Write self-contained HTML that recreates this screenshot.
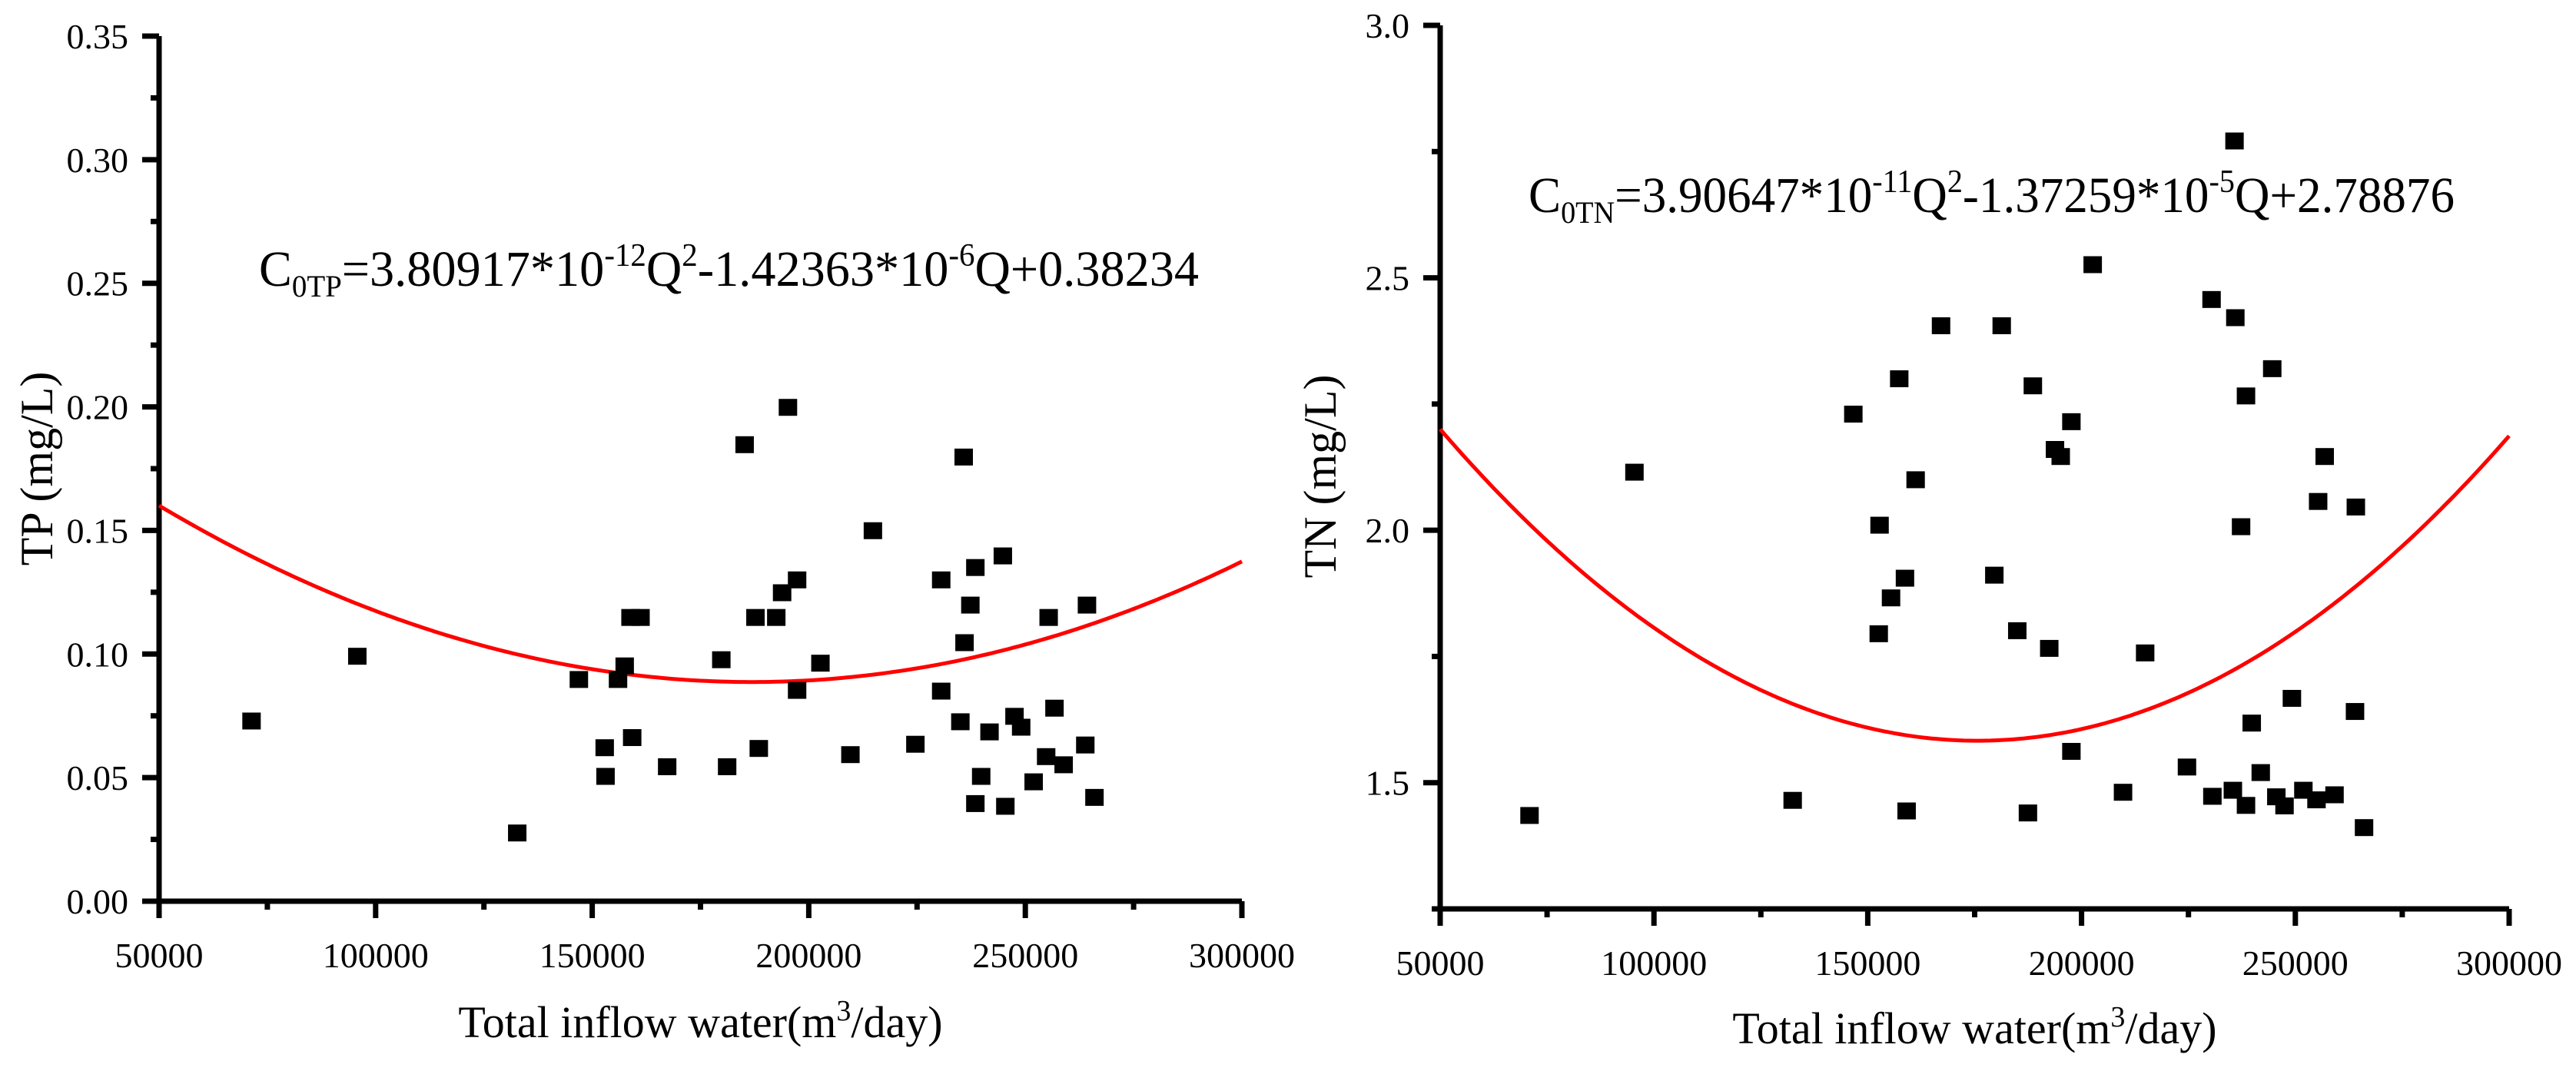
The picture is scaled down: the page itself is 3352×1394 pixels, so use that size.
<!DOCTYPE html>
<html><head><meta charset="utf-8">
<style>
html,body{margin:0;padding:0;background:#fff;}
svg{display:block;font-family:"Liberation Serif",serif;}
svg text{font-family:"Liberation Serif",serif;}
</style></head>
<body>
<svg id="fig" width="3352" height="1394" viewBox="0 0 3352 1394" xmlns="http://www.w3.org/2000/svg" font-family="Liberation Serif, serif">
<rect width="3352" height="1394" fill="#fff"/>
</svg>
<script>
// ---- data: TP chart ----
const tpFlow = [71346,95769,132692,146923,152885,153077,155962,157500,158846,159231,161154,167308,179808,181154,185192,187692,188462,192500,193846,195192,197308,197308,202692,209615,214808,224615,230577,230577,235000,235769,235962,237308,238462,238462,239808,241731,244808,245385,247500,249038,251923,254808,255385,256731,258846,263846,264231,265962];
const tpValue = [0.0729,0.0991,0.0276,0.0897,0.0621,0.0505,0.0897,0.0952,0.1148,0.0662,0.1148,0.0544,0.0977,0.0544,0.1847,0.1148,0.0618,0.1148,0.1248,0.1998,0.1300,0.0853,0.0963,0.0593,0.1499,0.0635,0.1300,0.0850,0.0726,0.1797,0.1046,0.1198,0.1350,0.0395,0.0505,0.0685,0.1397,0.0384,0.0748,0.0704,0.0483,0.0585,0.1148,0.0781,0.0552,0.0632,0.1198,0.0420];
// curve as drawn in the figure (estimated from the plotted line)
const tpFitCoef = [3.80917e-12, -1.42363e-6, 0.2217];
const tpYTicks = [0,0.05,0.10,0.15,0.20,0.25,0.30,0.35];
const tpYLabels = ["0.00","0.05","0.10","0.15","0.20","0.25","0.30","0.35"];
// ---- data: TN chart ----
const tnFlow = [70897,95437,132439,146626,152569,152761,155445,157362,158704,159088,161196,167139,179601,181327,184969,187462,188612,192446,193788,195130,197623,197623,202607,209701,214877,224655,230406,230598,235390,235774,235966,237308,238458,238458,239801,241909,244594,245552,247469,249195,251879,254946,255330,256863,259164,263957,264149,266066];
const tnValue = [1.435,2.115,1.465,2.230,1.795,2.010,1.866,2.300,1.905,1.444,2.100,2.405,1.911,2.405,1.801,1.440,2.286,1.766,2.160,2.146,2.215,1.562,2.526,1.481,1.757,1.531,2.457,1.473,1.485,2.771,2.421,2.007,2.266,1.455,1.618,1.520,2.320,1.472,1.454,1.667,1.485,1.466,2.057,2.146,1.476,1.641,2.046,1.411];
const tnFitCoef = [3.90647e-11, -1.37259e-5, 2.78876];
const tnYTicks = [1.5,2.0,2.5,3.0];
const tnYLabels = ["1.5","2.0","2.5","3.0"];
const xTicks = [50000,100000,150000,200000,250000,300000];
const xLabels = ["50000","100000","150000","200000","250000","300000"];

const NS="http://www.w3.org/2000/svg";
const svg=document.getElementById('fig');
function mk(tag,attrs,parent){const e=document.createElementNS(NS,tag);for(const k in attrs)e.setAttribute(k,attrs[k]);(parent||svg).appendChild(e);return e;}
const FF='Liberation Serif, serif';

function drawChart(o){
  const g=mk('g',{});
  
  
  const sx=v=>o.x0+(v-o.xmin)/(o.xmax-o.xmin)*(o.x1-o.x0);
  const sy=v=>o.y0-(v-o.ymin)/(o.ymax-o.ymin)*(o.y0-o.y1);
  const ax=mk('path',{d:`M${o.x0},${o.y1} V${o.y0} H${o.x1}`,fill:'none',stroke:'#000','stroke-width':7},g);
  
  
  for(let v=o.xmin; v<=o.xmax; v+=25000){
    const major=(v%50000===0);
    const t=mk('line',{x1:sx(v),x2:sx(v),y1:o.y0,y2:o.y0+(major?22:11),stroke:'#000','stroke-width':7},g);
    
    
  }
  xTicks.forEach((v,i)=>{
    const t=mk('text',{x:sx(v),y:o.y0+86,'font-size':46,'text-anchor':'middle','font-family':FF},g);
    t.textContent=xLabels[i];
    
    
  });
  const step=o.yTicks[1]-o.yTicks[0];
  for(let v=o.ymin; v<=o.ymax+1e-9; v+=step/2){
    const major=o.yTicks.some(t=>Math.abs(t-v)<1e-9);
    const t=mk('line',{x1:o.x0-(major?22:11),x2:o.x0,y1:sy(v),y2:sy(v),stroke:'#000','stroke-width':7},g);
    
    
  }
  o.yTicks.forEach((v,i)=>{
    const t=mk('text',{x:o.x0-40,y:sy(v)+16,'font-size':46,'text-anchor':'end','font-family':FF},g);
    t.textContent=o.yLabels[i];
    
    
  });
  let d='';
  for(let i=0;i<=200;i++){
    const q=o.xmin+(o.xmax-o.xmin)*i/200;
    const c=o.coef[0]*q*q+o.coef[1]*q+o.coef[2];
    d+=(i?'L':'M')+sx(q).toFixed(1)+','+sy(c).toFixed(1);
  }
  const cv=mk('path',{d:d,fill:'none',stroke:'#ff0000','stroke-width':5},g);
  
  
  o.xs.forEach((q,i)=>{
    const r=mk('rect',{x:sx(q)-12,y:sy(o.ys[i])-11,width:24,height:22,fill:'#000'},g);
    
    
  });
  const yt=mk('text',{x:0,y:0,'font-size':60,'text-anchor':'middle','font-family':FF,transform:`translate(${o.ytx},${o.yty}) rotate(-90)`},g);
  yt.textContent=o.ytitle;
  
  
  const xt=mk('text',{x:(o.x0+o.x1)/2,y:o.xty,'font-size':58,'text-anchor':'middle','font-family':FF},g);
  xt.innerHTML='Total inflow water(m<tspan dy="-22" font-size="38">3</tspan><tspan dy="22">/day)</tspan>';
  
  
  const eq=mk('text',{x:o.eqx,y:o.eqy,'font-size':66,'font-family':FF,textLength:o.eqw,lengthAdjust:'spacingAndGlyphs'},g);
  eq.innerHTML=o.eq;
  
  
}

drawChart({name:'tp-chart',x0:207,x1:1616,y0:1173,y1:47,xmin:50000,xmax:300000,ymin:0,ymax:0.35,
  yTicks:tpYTicks,yLabels:tpYLabels,xs:tpFlow,ys:tpValue,coef:tpFitCoef,
  ytitle:'TP (mg/L)',ytx:68,yty:610,xty:1350,
  eqx:337,eqy:372,eqw:1223,
  eq:'C<tspan dy="14" font-size="40">0TP</tspan><tspan dy="-14">=3.80917*10</tspan><tspan dy="-26" font-size="42">-12</tspan><tspan dy="26">Q</tspan><tspan dy="-26" font-size="42">2</tspan><tspan dy="26">-1.42363*10</tspan><tspan dy="-26" font-size="42">-6</tspan><tspan dy="26">Q+0.38234</tspan>'});

drawChart({name:'tn-chart',x0:1874,x1:3265,y0:1183,y1:33,xmin:50000,xmax:300000,ymin:1.25,ymax:3.0,
  yTicks:tnYTicks,yLabels:tnYLabels,xs:tnFlow,ys:tnValue,coef:tnFitCoef,
  ytitle:'TN (mg/L)',ytx:1738,yty:620,xty:1358,
  eqx:1989,eqy:276,eqw:1205,
  eq:'C<tspan dy="14" font-size="40">0TN</tspan><tspan dy="-14">=3.90647*10</tspan><tspan dy="-26" font-size="42">-11</tspan><tspan dy="26">Q</tspan><tspan dy="-26" font-size="42">2</tspan><tspan dy="26">-1.37259*10</tspan><tspan dy="-26" font-size="42">-5</tspan><tspan dy="26">Q+2.78876</tspan>'});
</script>
</body></html>
